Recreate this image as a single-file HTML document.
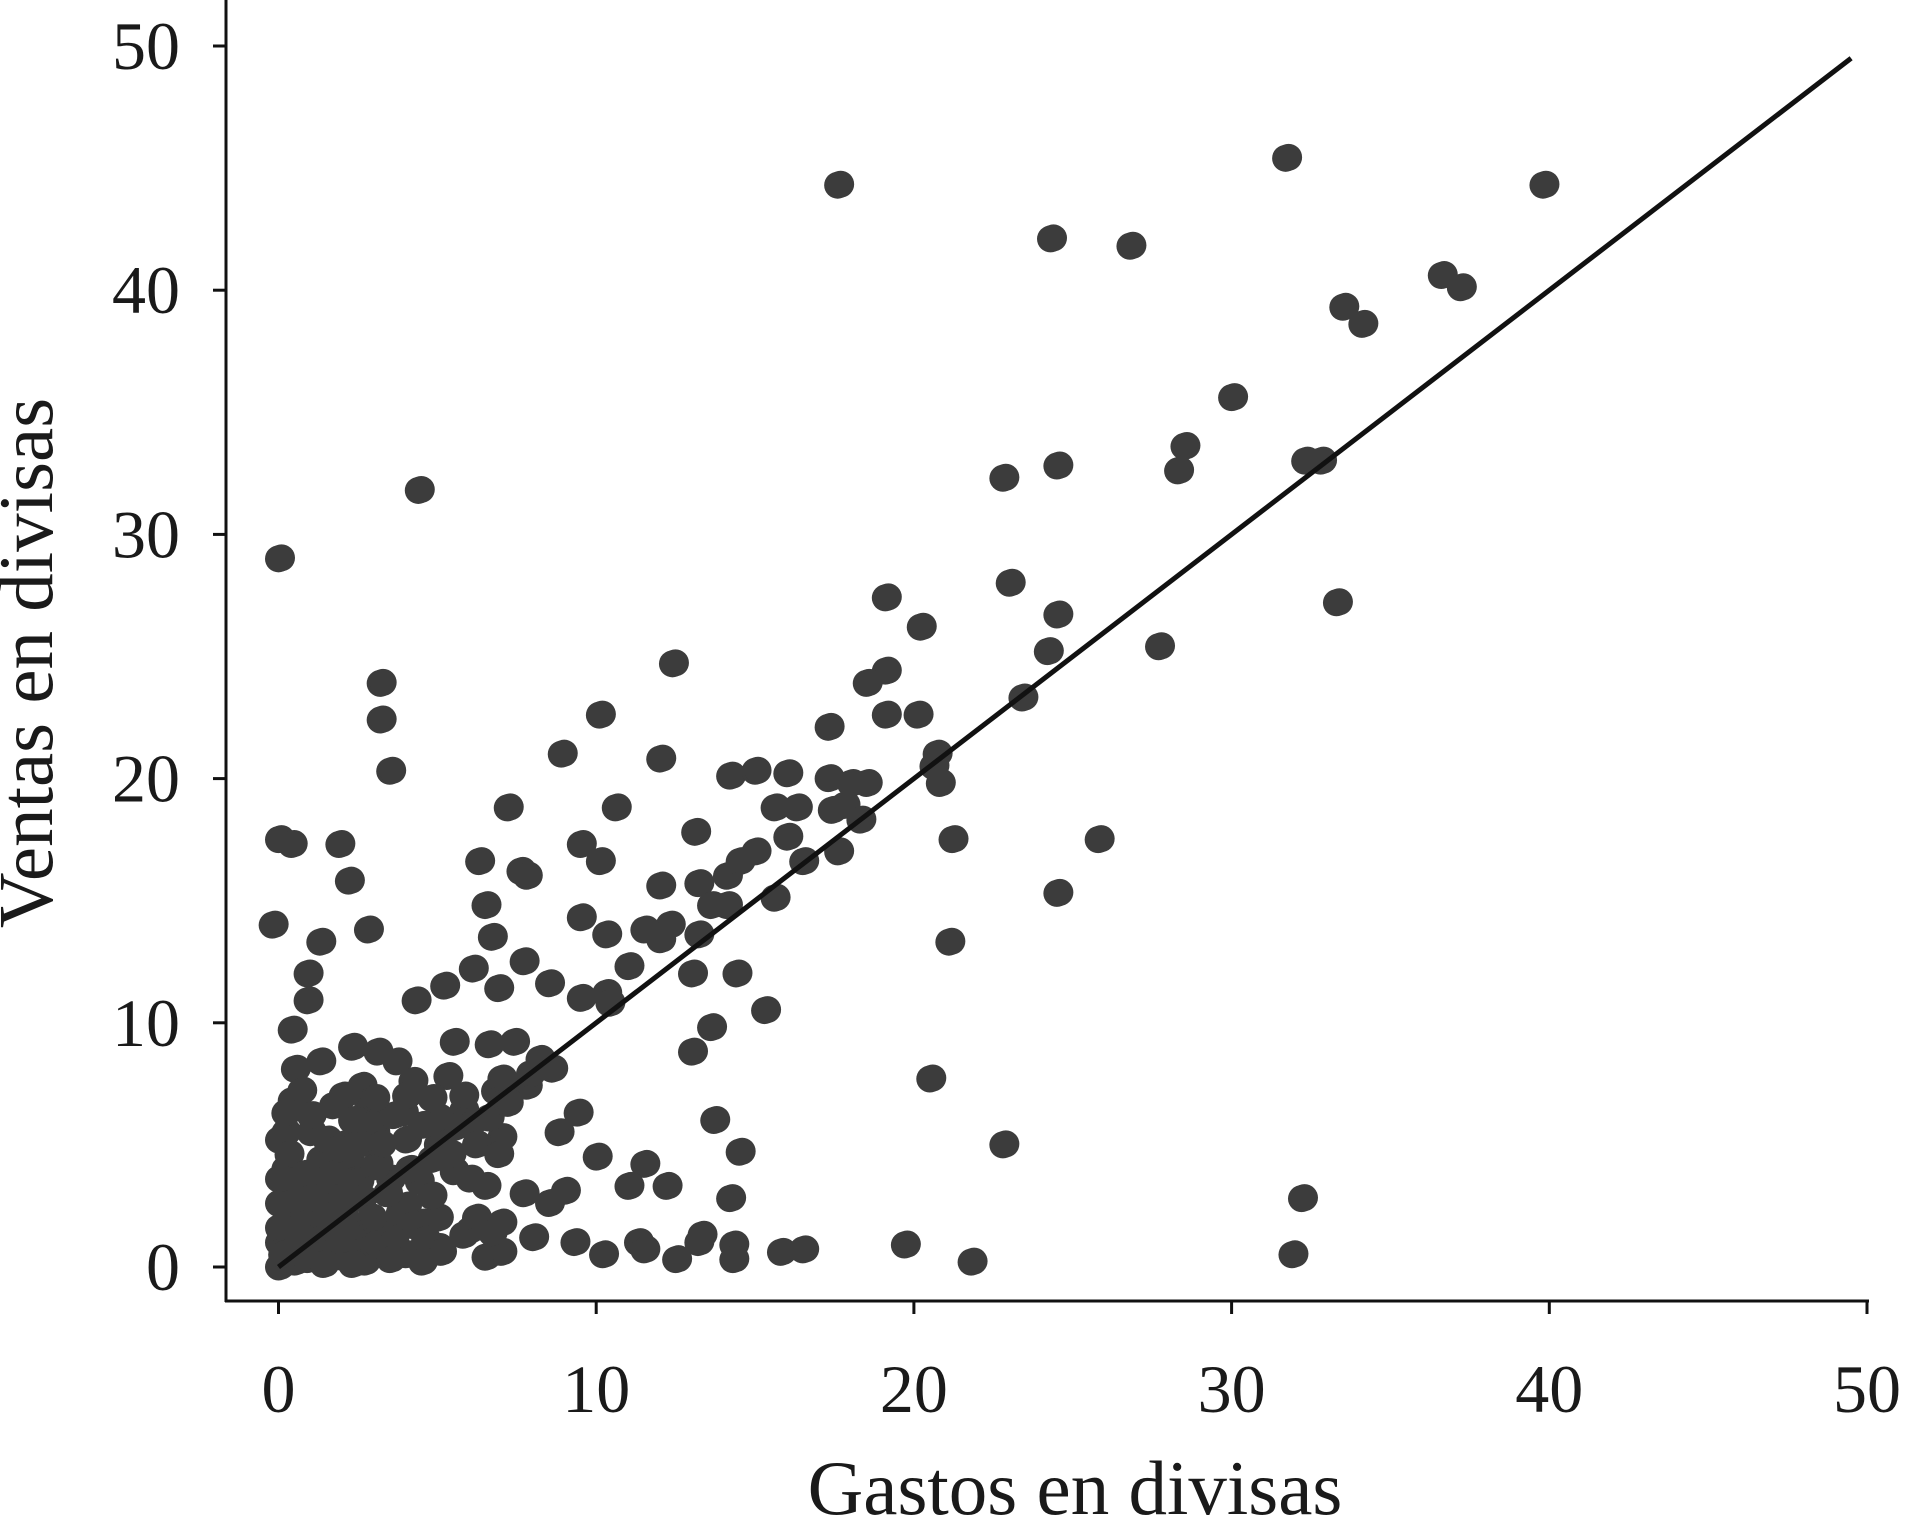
<!DOCTYPE html>
<html><head><meta charset="utf-8"><style>
html,body{margin:0;padding:0;background:#fff;}
svg text{font-family:"Liberation Serif",serif;fill:#1a1a1a;}
</style></head><body>
<svg id="chart" width="1907" height="1519" viewBox="0 0 1907 1519" xmlns="http://www.w3.org/2000/svg">
<g id="points"></g>
<g id="axes"></g>
</svg>
<script>
const points = [[17.6,44.3],[31.7,45.4],[39.8,44.3],[24.3,42.1],[26.8,41.8],[36.6,40.6],[37.2,40.1],[33.5,39.3],[34.1,38.6],[30,35.6],[28.5,33.6],[28.3,32.6],[24.5,32.8],[22.8,32.3],[32.3,33],[32.8,33],[33.3,27.2],[4.4,31.8],[0,29],[23,28],[24.5,26.7],[27.7,25.4],[24.2,25.2],[19.1,27.4],[20.2,26.2],[19.1,24.4],[18.5,23.9],[23.4,23.3],[12.4,24.7],[3.2,23.9],[3.2,22.4],[10.1,22.6],[8.9,21],[12,20.8],[17.3,22.1],[19.1,22.6],[20.1,22.6],[20.7,21],[20.6,20.5],[20.8,19.8],[3.5,20.3],[14.2,20.1],[15,20.3],[16,20.2],[17.3,20],[18,19.8],[18.5,19.8],[7.2,18.8],[10.6,18.8],[15.6,18.8],[16.3,18.8],[17.4,18.7],[17.8,18.9],[18.3,18.3],[21.2,17.5],[25.8,17.5],[0,17.5],[0.4,17.3],[1.9,17.3],[9.5,17.3],[13.1,17.8],[15,17],[16,17.6],[17.6,17],[16.5,16.6],[6.3,16.6],[10.1,16.6],[7.6,16.2],[7.8,16],[2.2,15.8],[12,15.6],[13.2,15.7],[14.1,16],[14.5,16.6],[15.6,15.1],[24.5,15.3],[6.5,14.8],[9.5,14.3],[12.3,14],[13.6,14.8],[14.1,14.8],[-0.2,14],[2.8,13.8],[1.3,13.3],[6.7,13.5],[10.3,13.6],[11.5,13.8],[12,13.4],[13.2,13.6],[21.1,13.3],[0.9,12],[6.1,12.2],[7.7,12.5],[11,12.3],[13,12],[14.4,12],[0.9,10.9],[4.3,10.9],[5.2,11.5],[6.9,11.4],[8.5,11.6],[9.5,11],[10.3,11.2],[10.4,10.8],[15.3,10.5],[13.6,9.8],[13,8.8],[20.5,7.7],[0.4,9.7],[2.3,9],[3.1,8.8],[5.5,9.2],[6.6,9.1],[7.4,9.2],[8.2,8.5],[3.7,8.4],[0.5,8.1],[1.3,8.4],[4.2,7.6],[5.3,7.8],[6.8,7.2],[7.8,7.4],[0.7,7.2],[2,7],[2.8,6.5],[4.8,6.9],[5.8,6.4],[6,5.8],[13.7,6],[9.4,6.3],[8.8,5.5],[10,4.5],[14.5,4.7],[11.5,4.2],[22.8,5],[0,5.2],[1,5.5],[2,5],[3,5.5],[4,5.2],[5,5],[6.2,5],[7,5.3],[12.2,3.3],[11,3.3],[7.7,3],[8.5,2.6],[9,3.1],[14.2,2.8],[32.2,2.8],[6.5,3.3],[5.5,3.9],[3.5,3.6],[1.5,3.8],[0.5,3],[2,2.5],[4,2.5],[5,2],[6,1.5],[7,1.8],[9.3,1],[10.2,0.5],[11.3,1],[11.5,0.7],[12.5,0.3],[13.3,1.3],[13.2,1],[14.3,0.9],[14.3,0.3],[15.8,0.6],[16.5,0.7],[19.7,0.9],[21.8,0.2],[31.9,0.5],[0,1],[1,0.5],[2,0.4],[3,0.6],[4,0.5],[5,0.8],[6.5,0.4],[7,0.6],[8,1.2],[5.8,1.3],[0.3,2],[1.2,1.5],[2.5,1.2],[3.3,1.6],[4.5,1.8],[0.2,4],[1.3,4.4],[2.4,3.8],[3.1,4.2],[4.8,4.4],[1.8,3],[0.8,2.2],[3.8,2.2],[2.7,0.2],[0.5,0.2],[0,0],[0.5,0.8],[1,1.5],[1.5,2.4],[2,3],[2.5,3.5],[3,4.1],[0,1.6],[0.6,2.8],[1.1,3.2],[1.7,3.9],[2.2,4.6],[2.9,5.8],[3.6,6.2],[0.3,3.3],[0.9,0.3],[1.5,1.8],[2.3,0.1],[3,0.9],[4.2,1.7],[0,2.6],[0.4,6.8],[1.2,0.4],[2,2.2],[2.6,7.4],[5.5,5.7],[6.2,2],[4.6,1.1],[5.1,0.6],[6.7,1.4],[3.9,6.3],[4.4,3.5],[2.2,1.6],[1.6,0.6],[0.2,5.5],[0.1,0.5],[0.7,1.2],[1.3,2.1],[1.9,1.1],[2.6,2.8],[3.4,3],[3.6,1],[4.1,4],[4.8,2.9],[5.4,4.6],[6,3.6],[6.6,6.1],[7.2,6.7],[7.9,7.9],[8.6,8.1],[3,6.9],[4,7],[5,6.1],[6.9,4.6],[1,6.2],[1.5,5.2],[0.3,4.6],[0.8,3.8],[2.5,5],[3.2,5],[0,3.6],[0.5,1.5],[1,2.8],[1.8,4.8],[2.3,6],[4.5,5.8],[5.8,7],[7,7.7],[1.4,0.1],[3.5,0.3],[4.5,0.2],[0.2,6.3],[1.7,6.6],[2.9,2]];
const xs = points.map(p=>p[0]);
const ys = points.map(p=>p[1]);
const xTicks = [0,10,20,30,40,50];
const yTicks = [0,10,20,30,40,50];
const xTickLabels = ["0","10","20","30","40","50"];
const yTickLabels = ["0","10","20","30","40","50"];
const fitLine = [0,49.5];

const NS="http://www.w3.org/2000/svg";
function X(v){return 278.5+v*(1867-278.5)/50;}
function Y(v){return 1267-v*(1267-46)/50;}
function mk(t,a,p){const e=document.createElementNS(NS,t);for(const k in a)e.setAttribute(k,a[k]);p.appendChild(e);return e;}
const pg=document.getElementById('points');
for(let i=0;i<xs.length;i++){
  const c=mk('circle',{cx:X(xs[i]),cy:Y(ys[i]),r:13.5,fill:'#3c3c3c'},pg);
  
  
  const c2=mk('circle',{cx:X(xs[i])+3,cy:Y(ys[i])-1,r:13.5,fill:'#3c3c3c'},pg);
  
  
}
const ax=document.getElementById('axes');
const fl=mk('line',{x1:X(fitLine[0]),y1:Y(fitLine[0]),x2:X(fitLine[1]),y2:Y(fitLine[1]),stroke:'#111',"stroke-width":5},ax);


const ls=mk('line',{x1:226,y1:0,x2:226,y2:1302,stroke:'#111',"stroke-width":3},ax);


const bs=mk('line',{x1:225,y1:1301,x2:1869,y2:1301,stroke:'#111',"stroke-width":3},ax);


xTicks.forEach((v,i)=>{
  const t=mk('line',{x1:X(v),y1:1301,x2:X(v),y2:1314,stroke:'#111',"stroke-width":3},ax);
  
  
  const l=mk('text',{x:X(v),y:1412,"text-anchor":"middle","font-size":68},ax);
  l.textContent=xTickLabels[i];
  
  
});
yTicks.forEach((v,i)=>{
  const t=mk('line',{x1:213,y1:Y(v),x2:226,y2:Y(v),stroke:'#111',"stroke-width":3},ax);
  
  
  const l=mk('text',{x:180,y:Y(v)+23,"text-anchor":"end","font-size":68},ax);
  l.textContent=yTickLabels[i];
  
  
});
const xl=mk('text',{x:1075,y:1514,"text-anchor":"middle","font-size":77},ax);
xl.textContent='Gastos en divisas';


const yl=mk('text',{x:0,y:0,"text-anchor":"middle","font-size":77,transform:'translate(52,663) rotate(-90)'},ax);
yl.textContent='Ventas en divisas';


</script>
</body></html>
